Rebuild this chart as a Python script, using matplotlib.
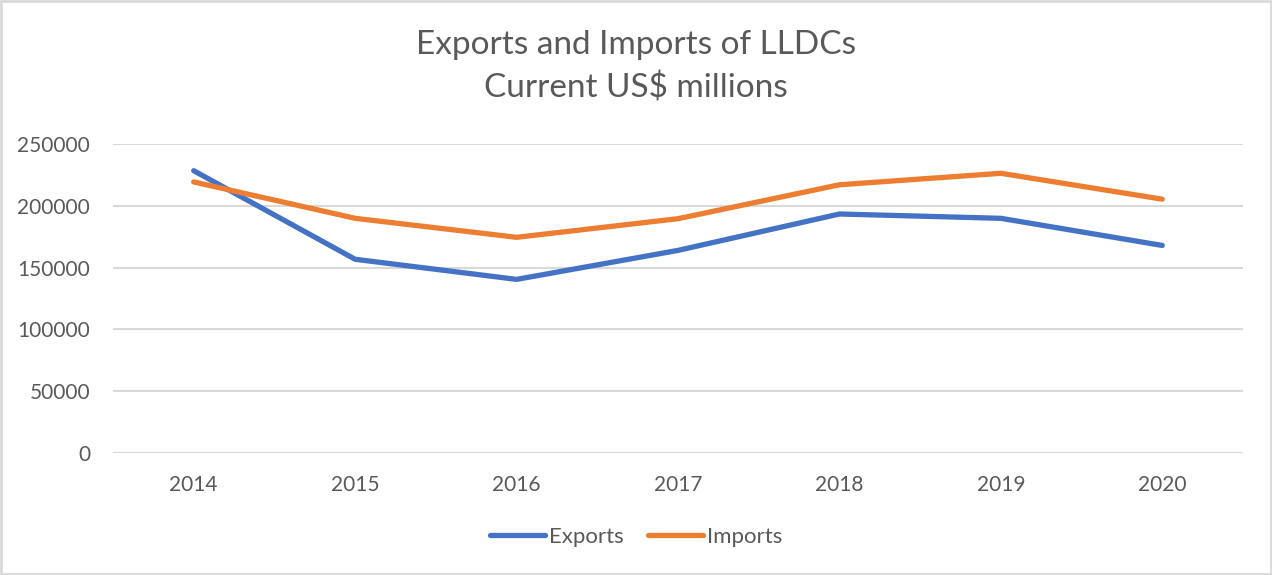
import matplotlib
matplotlib.use("Agg")
import matplotlib.pyplot as plt
from matplotlib.patches import Rectangle

years = ["2014", "2015", "2016", "2017", "2018", "2019", "2020"]
exports = [228600, 156800, 140500, 164000, 193500, 190000, 168000]
imports = [219500, 190000, 174600, 189700, 217200, 226500, 205500]
yticks = [0, 50000, 100000, 150000, 200000, 250000]

plt.rcParams['font.family'] = ['Lato', 'DejaVu Sans']
txt = '#595959'

fig = plt.figure(figsize=(12.72, 5.75), dpi=100)
fig.patches.append(Rectangle((0.001, 0.001), 0.998, 0.998, transform=fig.transFigure,
                             fill=False, edgecolor='#d9d9d9', linewidth=2))
ax = fig.add_axes([113/1272, 1-452.7/575, 1130/1272, 308.4/575])
x = list(range(len(years)))
ax.plot(x, exports, color='#4472C4', lw=3.8, solid_capstyle='round', solid_joinstyle='round', label='Exports', zorder=3)
ax.plot(x, imports, color='#ED7D31', lw=3.8, solid_capstyle='round', solid_joinstyle='round', label='Imports', zorder=3)
ax.set_xlim(-0.5, len(years) - 0.5)
ax.set_ylim(0, 250000)
ax.set_yticks(yticks)
ax.set_yticklabels([str(v) for v in yticks])
ax.set_xticks(x)
ax.set_xticklabels(years)
ax.grid(axis='y', color='#d9d9d9', lw=1.5)
ax.set_axisbelow(True)
for s in ax.spines.values():
    s.set_visible(False)
ax.tick_params(length=0, labelsize=15, labelcolor=txt)
ax.tick_params(axis='y', pad=16.5)
ax.tick_params(axis='x', pad=16)

fig.text(0.5, 1-45/575, "Exports and Imports of LLDCs", ha='center', va='center',
         fontsize=24, color=txt)
fig.text(0.5, 1-88/575, "Current US$ millions", ha='center', va='center',
         fontsize=24, color=txt)

leg = fig.legend(loc='center', bbox_to_anchor=(0.5, 1-537/575), ncol=2, frameon=False,
                 fontsize=16, handlelength=2.5, handletextpad=0.15, columnspacing=1.1)
for t in leg.get_texts():
    t.set_color(txt)
for h in leg.get_lines():
    h.set_solid_capstyle('round')

fig.savefig("out.png", dpi=100)
